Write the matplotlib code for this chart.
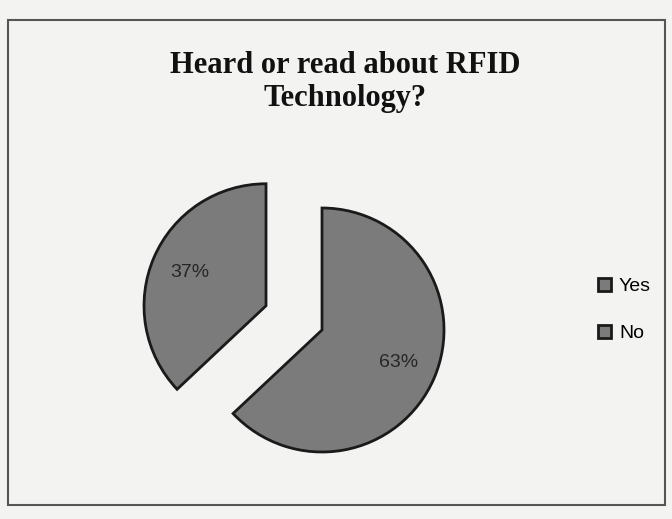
import matplotlib.pyplot as plt
from matplotlib.patches import Rectangle

labels = ['Yes', 'No']
shares = [63, 37]
explode = [0.0, 0.5]

fig = plt.figure(figsize=(6.72, 5.19), dpi=100)
fig.patch.set_facecolor('#f3f3f1')

ax = fig.add_axes([0, 0, 1, 1])
ax.set_facecolor('none')

wedges, texts, autotexts = ax.pie(
    shares, explode=explode, startangle=90, counterclock=False,
    colors=['#7b7b7b', '#7b7b7b'], autopct='%d%%', pctdistance=0.68,
    wedgeprops=dict(edgecolor='#1a1a1a', linewidth=2.0),
    textprops=dict(color='#262626', fontsize=14, family='Liberation Sans'),
    radius=1.0)

# whole figure, 122 px per data unit, Yes centre at (322, 330) px
ax.set_aspect('auto')
ax.set_xlim((0 - 322) / 122, (672 - 322) / 122)
ax.set_ylim((330 - 519) / 122, (330 - 0) / 122)
ax.axis('off')

fig.text(345 / 672, 1 - 82 / 519, 'Heard or read about RFID\nTechnology?',
         ha='center', va='center', fontsize=22, fontweight='bold',
         family='Liberation Serif', color='#111111', linespacing=1.2)

fig.legend(wedges, labels, loc='center left',
           bbox_to_anchor=(580 / 672, 1 - 310 / 519), frameon=False,
           handlelength=0.7, handleheight=0.7, labelspacing=1.5,
           handletextpad=0.4, prop=dict(size=14, family='Liberation Sans'))

fig.patches.append(Rectangle((8 / 672, 1 - 505 / 519), 657 / 672, 485 / 519,
                             transform=fig.transFigure, fill=False,
                             edgecolor='#555555', linewidth=1.5))

fig.savefig('out.png', dpi=100, facecolor=fig.get_facecolor())
